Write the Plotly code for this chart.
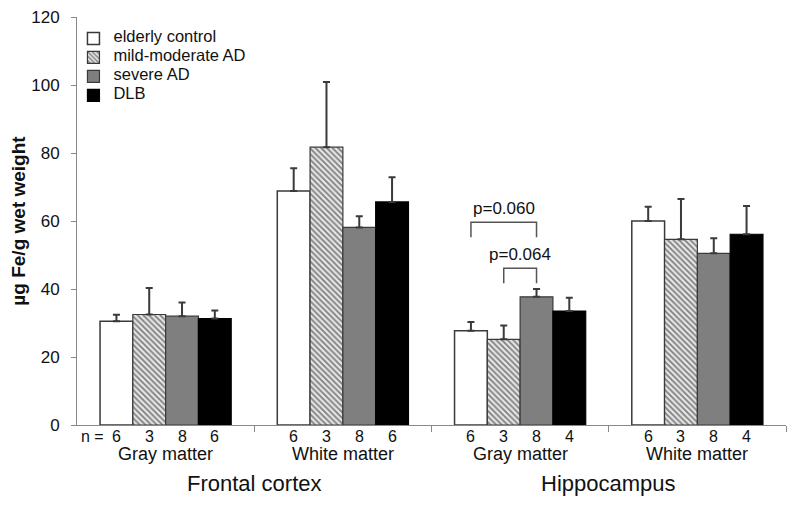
import plotly.graph_objects as go

groups = ["Frontal Gray", "Frontal White", "Hippo Gray", "Hippo White"]
series = ["elderly control", "mild-moderate AD", "severe AD", "DLB"]
values = {
    "elderly control":  [30.5, 68.8, 27.7, 60.0],
    "mild-moderate AD": [32.5, 81.7, 25.2, 54.6],
    "severe AD":        [32.0, 58.1, 37.7, 50.5],
    "DLB":              [31.3, 65.6, 33.5, 56.1],
}
errors = {
    "elderly control":  [1.9, 6.7, 2.6, 4.2],
    "mild-moderate AD": [7.8, 19.2, 4.1, 11.9],
    "severe AD":        [4.0, 3.3, 2.3, 4.4],
    "DLB":              [2.4, 7.3, 3.9, 8.3],
}
n_counts = {
    "elderly control":  [6, 6, 6, 6],
    "mild-moderate AD": [3, 3, 3, 3],
    "severe AD":        [8, 8, 8, 8],
    "DLB":              [6, 6, 4, 4],
}
sub_labels = ["Gray matter", "White matter", "Gray matter", "White matter"]
region_labels = ["Frontal cortex", "Hippocampus"]
y_ticks = [0, 20, 40, 60, 80, 100, 120]
# p-value brackets: (group index, series a, series b, bracket height, leg bottom, label)
brackets = [
    (2, 0, 2, 59.6, 55.2, "p=0.060"),
    (2, 1, 2, 46.1, 41.7, "p=0.064"),
]

styles = {
    "elderly control":  dict(color="white", line=dict(color="#3a3a3a", width=1.5)),
    "mild-moderate AD": dict(color="#e6e6e6", line=dict(color="#3a3a3a", width=1.2),
                             pattern=dict(shape="\\", fgcolor="#111111", bgcolor="#e4e4e4",
                                          size=4, solidity=0.4)),
    "severe AD":        dict(color="#7f7f7f", line=dict(color="#3a3a3a", width=1.2)),
    "DLB":              dict(color="black", line=dict(color="black", width=1.2)),
}

FONT = "Arial, Liberation Sans, sans-serif"
TXT = "#111111"
x = list(range(len(groups)))
bargap = 0.26
bw = (1 - bargap) / len(series)
offsets = [(i - (len(series) - 1) / 2) * bw for i in range(len(series))]

fig = go.Figure()
for s in series:
    fig.add_trace(go.Bar(
        x=x, y=values[s], name=f'<span style="font-size:16.5px">{s}</span>',
        marker=styles[s],
        error_y=dict(type="data", symmetric=False, array=errors[s],
                     arrayminus=[0] * len(groups), color="#3a3a3a",
                     thickness=2, width=3.5),
    ))

ann = []
# n counts
for si, s in enumerate(series):
    for gi in x:
        ann.append(dict(x=gi + offsets[si], y=0, xref="x", yref="y",
                        text=str(n_counts[s][gi]), showarrow=False,
                        yshift=-11, font=dict(size=16, color=TXT, family=FONT)))
ann.append(dict(x=offsets[0], y=0, xref="x", yref="y", text="n =",
                showarrow=False, xanchor="right", xshift=-10, yshift=-11,
                font=dict(size=16, color=TXT, family=FONT)))
for gi in x:
    ann.append(dict(x=gi, y=0, xref="x", yref="y", text=sub_labels[gi],
                    showarrow=False, yshift=-29,
                    font=dict(size=18, color=TXT, family=FONT)))
for ri, r in enumerate(region_labels):
    ann.append(dict(x=2 * ri + 0.5, y=0, xref="x", yref="y", text=r,
                    showarrow=False, yshift=-58,
                    font=dict(size=22, color=TXT, family=FONT)))

shapes = []
for gi, a, b, h, lo, lab in brackets:
    xa = gi + offsets[a]
    xb = gi + offsets[b]
    shapes.append(dict(type="path", xref="x", yref="y",
                       path=f"M {xa} {lo} L {xa} {h} L {xb} {h} L {xb} {lo}",
                       line=dict(color="#555", width=1.5)))
    ann.append(dict(x=(xa + xb) / 2, y=h, xref="x", yref="y", text=lab,
                    showarrow=False, yanchor="bottom", yshift=2,
                    font=dict(size=17, color=TXT, family=FONT)))

fig.update_layout(
    width=800, height=506,
    margin=dict(l=69, r=22, t=9, b=89),
    paper_bgcolor="white", plot_bgcolor="white",
    barmode="group", bargap=bargap, bargroupgap=0,
    font=dict(family=FONT, color=TXT),
    showlegend=True,
    legend=dict(x=-0.005, y=0.983, xanchor="left", yanchor="top",
                font=dict(size=10, color=TXT, family=FONT),
                bgcolor="rgba(0,0,0,0)", tracegroupgap=0, itemwidth=30),
    annotations=ann, shapes=shapes,
    xaxis=dict(range=[-0.5, 3.5], tickvals=[0.5, 1.5, 2.5, 3.5],
               ticktext=["", "", "", ""], ticks="outside", ticklen=6,
               tickcolor="#888", showline=True, linecolor="#888", linewidth=1,
               showgrid=False, zeroline=False, automargin=False),
    yaxis=dict(range=[0, 120], tickvals=y_ticks, ticks="outside", ticklen=5,
               tickcolor="#888", showline=True, linecolor="#888", linewidth=1,
               showgrid=False, zeroline=False, automargin=False,
               ticklabelstandoff=8, ticklabeloverflow="allow",
               tickfont=dict(size=17, color=TXT, family=FONT),
               title=dict(text="<b>µg Fe/g wet weight</b>", standoff=10,
                          font=dict(size=19, color=TXT, family=FONT))),
)

fig.write_html("out.html")
